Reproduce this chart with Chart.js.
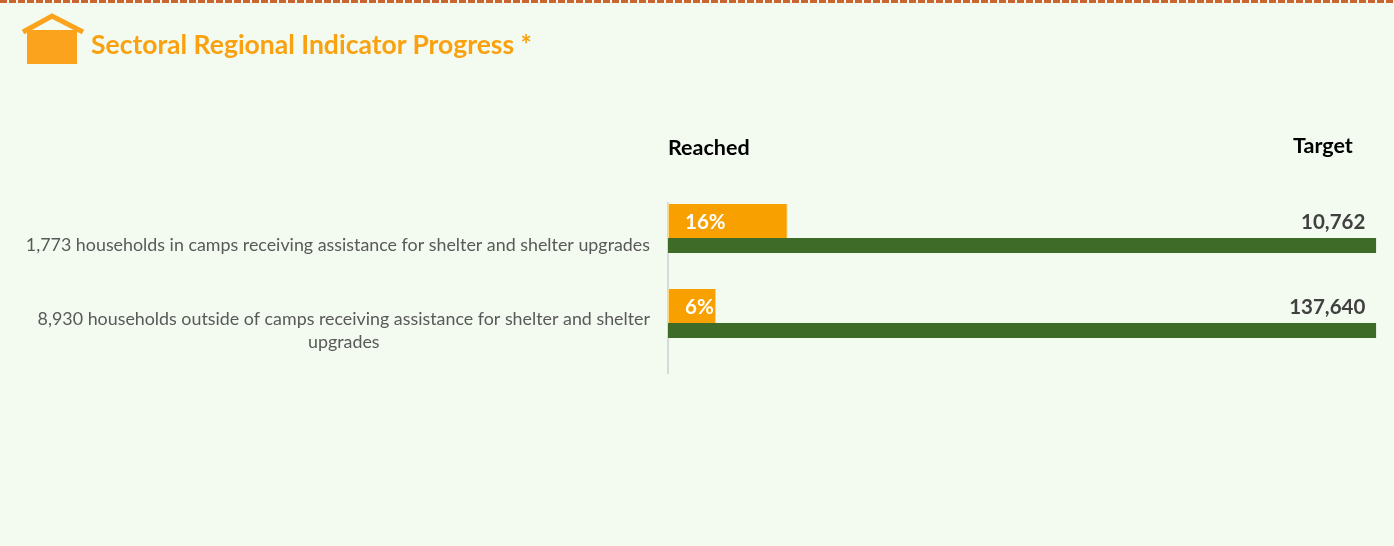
<!DOCTYPE html>
<html>
<head>
<meta charset="utf-8">
<title>Sectoral Regional Indicator Progress</title>
<script src="https://cdn.jsdelivr.net/npm/chart.js@4"></script>
<style>
    body { margin: 0; background: #f3fbf1; font-family: Lato, sans-serif; }
    #wrap { position: relative; width: 1394px; height: 546px; overflow: hidden; }
    #dashes { position: absolute; left: 0; top: 0; width: 100%; height: 3px;
        background: repeating-linear-gradient(90deg, #c9652f 0 7px, transparent 7px 9px); }
    #icon { position: absolute; left: 0; top: 0; }
    #title { position: absolute; left: 91px; top: 28px; font-size: 26.5px; line-height: 32px; font-weight: bold; color: #f9a10f; white-space: nowrap; }
    .head { position: absolute; font-size: 21.5px; line-height: 26px; font-weight: bold; color: #000; }
    canvas { position: absolute; left: 0; top: 0; }
</style>
</head>
<body>
<div id="wrap">
    <canvas id="progressChart" width="1394" height="546"></canvas>
    <div id="dashes"></div>
    <svg id="icon" width="90" height="70">
        <rect x="27" y="30" width="50" height="34" fill="#fba31c"></rect>
        <polyline points="23,32 52,16 83,32" fill="none" stroke="#fba31c" stroke-width="5"></polyline>
    </svg>
    <div id="title">Sectoral Regional Indicator Progress *</div>
    <div class="head" style="left:668px;top:134px">Reached</div>
    <div class="head" style="left:1293px;top:132px">Target</div>
</div>
<script>
const categories = [
    ['1,773 households in camps receiving assistance for shelter and shelter upgrades'],
    ['8,930 households outside of camps receiving assistance for shelter and shelter', 'upgrades']
];
const reachedShare = [16.9, 6.8];
const targetShare = [100, 100];
const reachedLabels = ['16%', '6%'];
const targetLabels = ['10,762', '137,640'];

// category text and value labels, the axis can't center lines inside one label
const labelPlugin = {
    id: 'labelPlugin',
    afterDatasetsDraw(chart) {
        const ctx = chart.ctx;
        const yScale = chart.scales.y;
        ctx.save();
        ctx.textBaseline = 'middle';

        ctx.font = '17.85px Lato, sans-serif';
        ctx.fillStyle = '#595959';
        ctx.textAlign = 'center';
        categories.forEach((lines, i) => {
            const widest = Math.max(...lines.map(l => ctx.measureText(l).width));
            const cx = yScale.left - 18 - widest / 2;
            const top = yScale.getPixelForTick(i) - (lines.length - 1) * 23 / 2;
            lines.forEach((line, n) => ctx.fillText(line, cx, top + n * 23));
        });

        const reached = chart.getDatasetMeta(0).data;
        ctx.font = 'bold 20.5px Lato, sans-serif';
        ctx.fillStyle = '#ffffff';
        ctx.textAlign = 'left';
        reached.forEach((bar, i) => ctx.fillText(reachedLabels[i], bar.base + 17, bar.y + 1.5));

        ctx.fillStyle = '#404040';
        ctx.textAlign = 'right';
        reached.forEach((bar, i) => ctx.fillText(targetLabels[i], chart.chartArea.right - 11, bar.y + 1.5));
        ctx.restore();
    }
};

const ctx = document.getElementById('progressChart').getContext('2d');
const progressChart = new Chart(ctx, {
    type: 'bar',
    data: {
        labels: categories.map(c => c.join(' ')),
        datasets: [
            {
                label: 'Reached',
                data: reachedShare,
                yAxisID: 'yReached',
                backgroundColor: '#f7a000',
                borderColor: '#fbd78c',
                borderWidth: { left: 1, right: 1 },
                borderSkipped: false,
                categoryPercentage: 1.153,
                barPercentage: 0.694
            },
            {
                label: 'Target',
                data: targetShare,
                yAxisID: 'y',
                backgroundColor: '#3e6b28',
                grouped: false,
                categoryPercentage: 1,
                barPercentage: 0.176
            }
        ]
    },
    options: {
        indexAxis: 'y',
        responsive: false,
        animation: false,
        layout: { padding: { left: 668, right: 17.7, top: 203, bottom: 173 } },
        plugins: {
            legend: { display: false },
            tooltip: { enabled: false }
        },
        scales: {
            x: { display: false, min: 0, max: 100 },
            y: {
                ticks: { display: false },
                grid: { display: false, drawTicks: false },
                border: { color: '#d9d9d9', width: 2 }
            },
            yReached: { display: false }
        }
    },
    plugins: [labelPlugin]
});
</script>
</body>
</html>
